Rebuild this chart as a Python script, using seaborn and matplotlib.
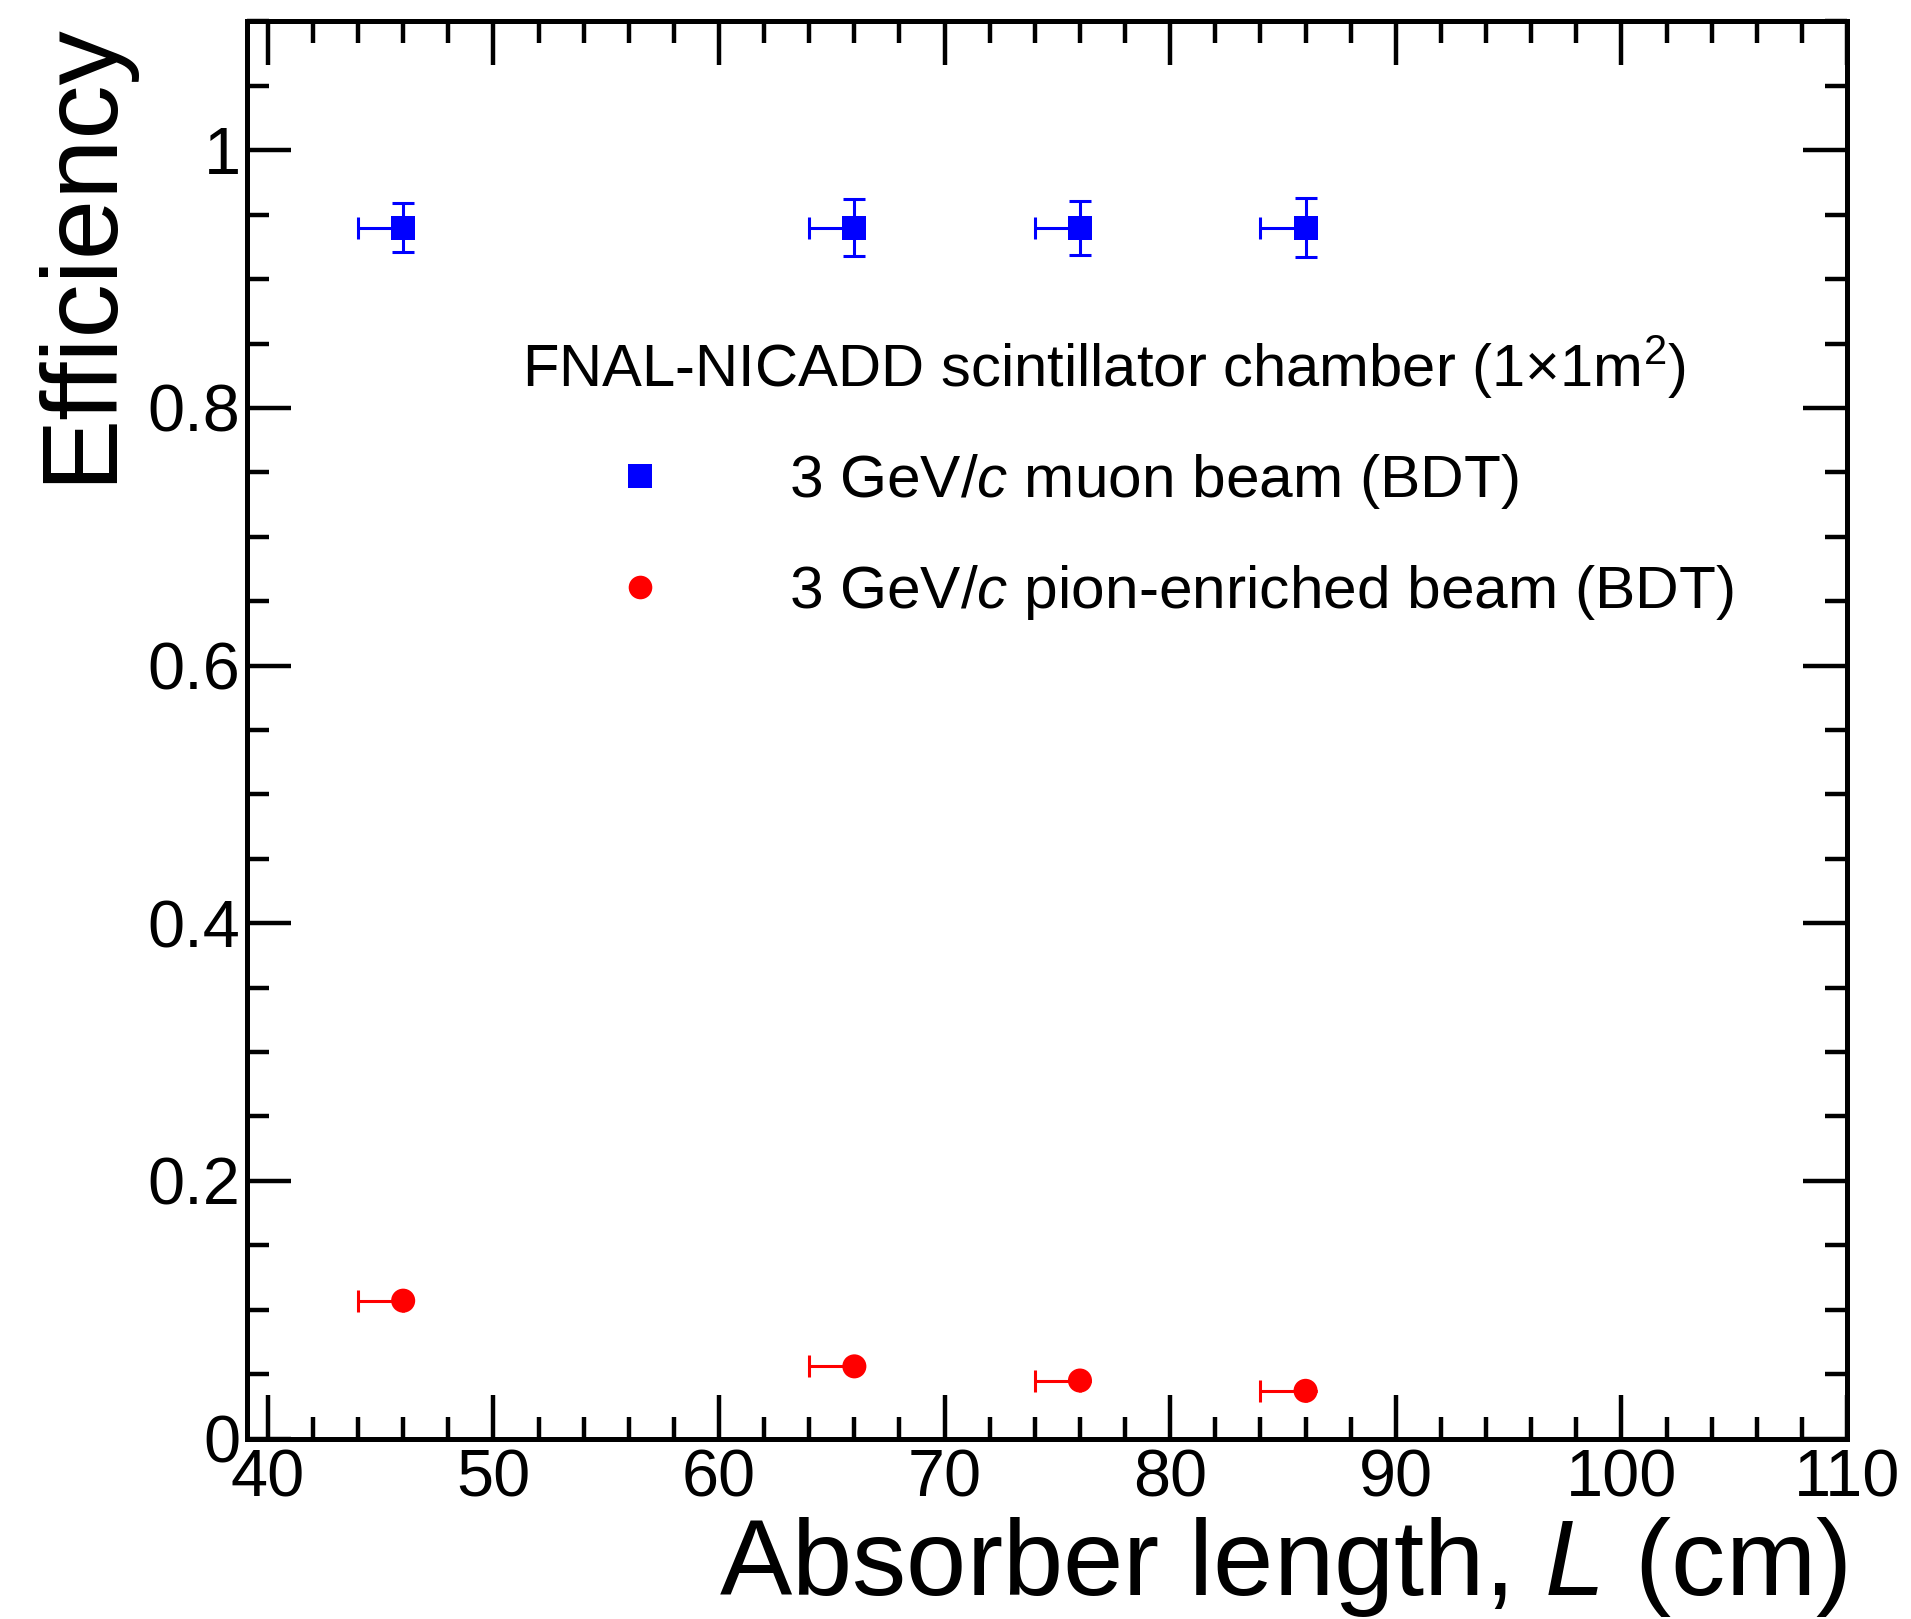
import matplotlib
matplotlib.use("Agg")
import matplotlib.pyplot as plt
from matplotlib.lines import Line2D
from matplotlib.ticker import MultipleLocator, FuncFormatter
import numpy as np
import pandas as pd
import seaborn as sns

# Absorber length (cm) and measured efficiencies
absorber_cm = [46, 66, 76, 86]
xerr_low = [2.0, 2.0, 2.0, 2.0]
xerr_high = [0.0, 0.0, 0.0, 0.0]

muon_eff = [0.940, 0.940, 0.940, 0.940]
muon_err = [0.019, 0.022, 0.021, 0.023]

pion_eff = [0.107, 0.056, 0.045, 0.037]
pion_err = [0.0, 0.0, 0.0, 0.0]

series_labels = ["3 GeV/$c$ muon beam (BDT)", "3 GeV/$c$ pion-enriched beam (BDT)"]
legend_header = "FNAL-NICADD scintillator chamber (1\u00d71m$^{2}$)"
x_ticks = [40, 50, 60, 70, 80, 90, 100, 110]

sns.set_style("white")
plt.rcParams["font.family"] = ["Liberation Sans", "DejaVu Sans"]
plt.rcParams["mathtext.fontset"] = "custom"
plt.rcParams["mathtext.rm"] = "Liberation Sans"
plt.rcParams["mathtext.it"] = "Liberation Sans:italic"
plt.rcParams["mathtext.bf"] = "Liberation Sans:bold"
for key in ["text.color", "axes.labelcolor", "xtick.color", "ytick.color",
            "xtick.labelcolor", "ytick.labelcolor", "axes.edgecolor"]:
    plt.rcParams[key] = "black"

df = pd.DataFrame({
    "L": absorber_cm * 2,
    "eff": muon_eff + pion_eff,
    "beam": ["muon"] * 4 + ["pion"] * 4,
})

fig = plt.figure(figsize=(19.11, 16.19), dpi=100)
ax = fig.add_axes([247.5 / 1911, 1 - 1438.5 / 1619, 1599.5 / 1911, 1417 / 1619])

colors = {"muon": "#0000ff", "pion": "#ff0000"}

# error bars
ax.errorbar(absorber_cm, muon_eff, xerr=[xerr_low, xerr_high], yerr=[muon_err, muon_err],
            fmt="none", ecolor=colors["muon"], elinewidth=2.2, capsize=8, capthick=2.2, zorder=2)
ax.errorbar(absorber_cm, pion_eff, xerr=[xerr_low, xerr_high], yerr=[pion_err, pion_err],
            fmt="none", ecolor=colors["pion"], elinewidth=2.2, capsize=8, capthick=2.2, zorder=2)

sns.scatterplot(data=df, x="L", y="eff", hue="beam", style="beam",
                palette=colors, markers={"muon": "s", "pion": "o"},
                s=300, linewidth=0, legend=False, ax=ax, zorder=3)

ax.set_xlim(39.1, 110)
ax.set_ylim(0, 1.1)

ax.xaxis.set_major_locator(MultipleLocator(10))
ax.xaxis.set_minor_locator(MultipleLocator(2))
ax.yaxis.set_major_locator(MultipleLocator(0.2))
ax.yaxis.set_minor_locator(MultipleLocator(0.05))
fmt = FuncFormatter(lambda v, p: f"{v:g}")
ax.xaxis.set_major_formatter(fmt)
ax.yaxis.set_major_formatter(fmt)
ax.set_xticks(x_ticks)

ax.tick_params(which="both", direction="in", top=True, right=True, bottom=True, left=True,
               width=3.2, colors="black")
ax.tick_params(which="major", length=32)
ax.tick_params(which="minor", length=16)
ax.tick_params(axis="x", which="major", labelsize=48, pad=7)
ax.tick_params(axis="y", which="major", labelsize=48, pad=5)

for sp in ax.spines.values():
    sp.set_linewidth(3.6)
    sp.set_color("black")

ax.set_xlabel("Absorber length, $L$ (cm)", fontsize=78, loc="right")
ax.set_ylabel("Efficiency", fontsize=78, loc="top")
ax.xaxis.set_label_coords(1.0, -0.054)
ax.yaxis.set_label_coords(-0.073, 1.0)

handles = [
    Line2D([], [], ls="none", marker="s", color=colors["muon"], markersize=17, markeredgewidth=0),
    Line2D([], [], ls="none", marker="o", color=colors["pion"], markersize=17, markeredgewidth=0),
]
ax.legend(handles, series_labels, title=legend_header, loc="upper left",
          bbox_to_anchor=(0.1714, 0.7795), frameon=False, fontsize=43.5, title_fontsize=43,
          alignment="left", handlelength=3.93, handletextpad=0.5, labelspacing=0.85,
          borderpad=0, borderaxespad=0)

fig.savefig("out.png", dpi=100)
